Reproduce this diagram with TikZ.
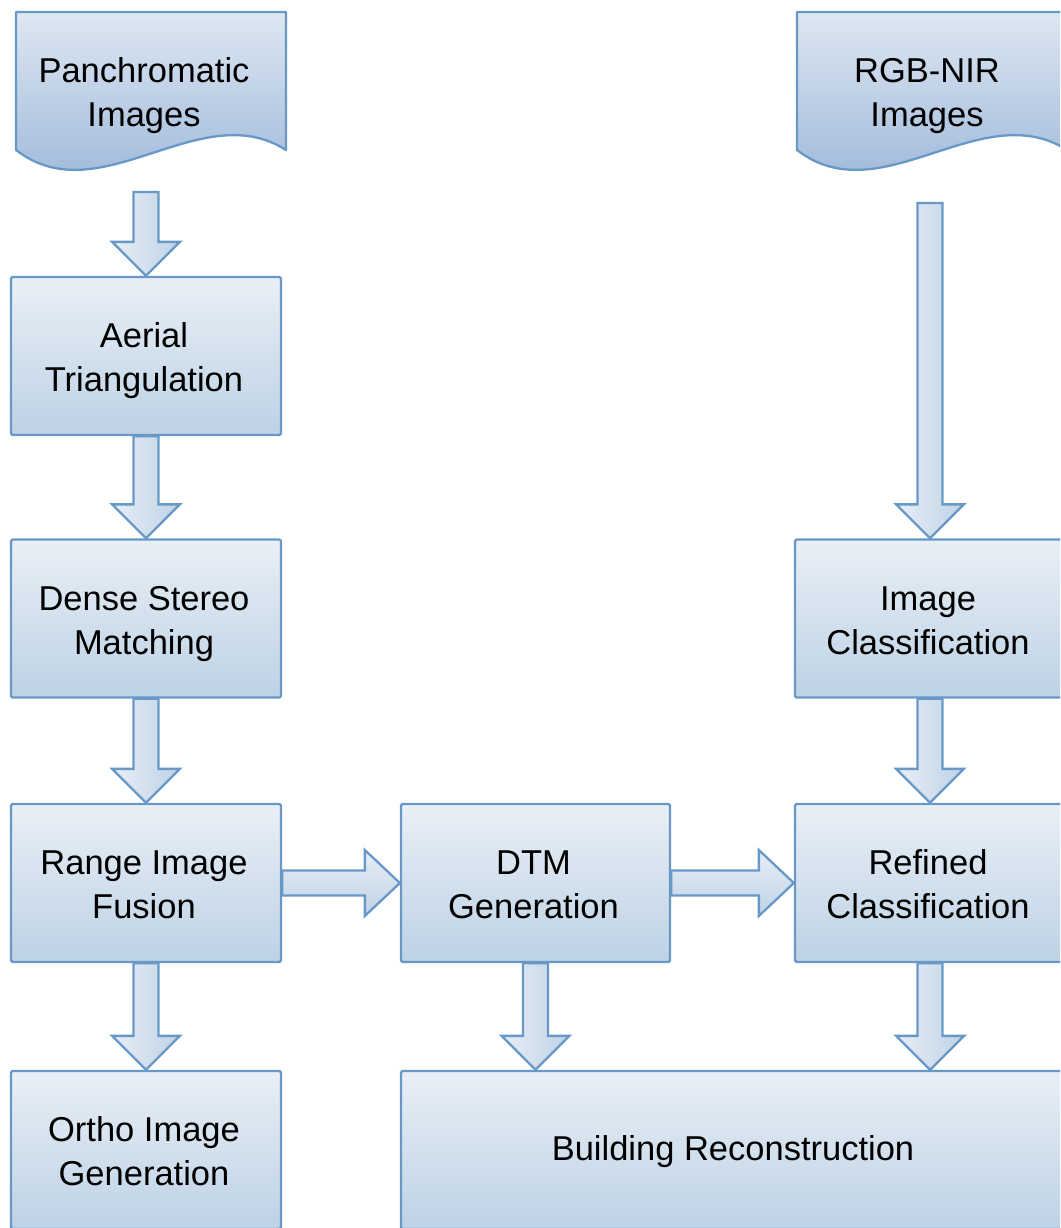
\documentclass[tikz,border=0pt]{standalone}
\usepackage{fontspec}
\setmainfont{Liberation Sans}
\usetikzlibrary{calc}
\definecolor{edgec}{RGB}{104,152,198}
\definecolor{boxtop}{RGB}{233,239,246}
\definecolor{boxbot}{RGB}{189,210,229}
\definecolor{doctop}{RGB}{222,231,242}
\definecolor{docbot}{RGB}{148,177,214}
\definecolor{arrl}{RGB}{232,238,246}
\definecolor{arrr}{RGB}{190,210,229}
\newcommand\twolines[2]{\fontsize{34.5}{44}\selectfont
  \begin{tabular}[t]{@{}c@{\hspace{4pt}}}#1\\#2\end{tabular}}
\tikzset{
  procbox/.style={draw=edgec, line width=2.3pt, rounded corners=1.5pt,
    top color=boxtop, bottom color=boxbot, minimum width=270pt,
    minimum height=158pt, inner sep=0pt,
    text height=30.8pt, text depth=47.8pt},
  onebox/.style={procbox, text height=25.3pt, text depth=5pt,
    font=\fontsize{34.5}{44}\selectfont},
  docshape/.style={draw=edgec, line width=2.3pt, line join=round,
    top color=doctop, bottom color=docbot},
  doctext/.style={inner sep=0pt, text height=30.8pt, text depth=47.8pt},
  varrowblk/.style={draw=edgec, line width=2.3pt, line join=miter,
    left color=arrl, right color=arrr},
  harrowblk/.style={draw=edgec, line width=2.3pt, line join=miter,
    top color=arrl, bottom color=arrr}
}
\newcommand\blkdown[2]{%
  \path[varrowblk] let \p1=(#1), \p2=(#2) in
  (\x1-12.5pt,\y1) -- (\x1+12.5pt,\y1) -- (\x1+12.5pt,\y2+34pt) --
  (\x1+34pt,\y2+34pt) -- (\x1,\y2) -- (\x1-34pt,\y2+34pt) --
  (\x1-12.5pt,\y2+34pt) -- cycle;}
\newcommand\blkright[2]{%
  \path[harrowblk] let \p1=(#1), \p2=(#2) in
  (\x1,\y1+12.5pt) -- (\x2-35pt,\y1+12.5pt) -- (\x2-35pt,\y1+33pt) --
  (\x2,\y1) -- (\x2-35pt,\y1-33pt) -- (\x2-35pt,\y1-12.5pt) --
  (\x1,\y1-12.5pt) -- cycle;}
\begin{document}
\begin{tikzpicture}[x=1pt,y=-1pt]
\useasboundingbox (0,0) rectangle (1060,1228);
\clip (0,0) rectangle (1060,1228);

% document shapes
\path[docshape] (16,12) -- (286,12) -- (286,150)
  .. controls (200,95) and (100,215) .. (16,150) -- cycle;
\node[doctext] (pan) at (146,91) {\twolines{Panchromatic}{Images}};
\coordinate (panout) at (146,192);

\path[docshape] (797,12) -- (1067,12) -- (1067,150)
  .. controls (981,95) and (881,215) .. (797,150) -- cycle;
\node[doctext] (rgb) at (929,91) {\twolines{RGB-NIR}{Images}};
\coordinate (rgbout) at (930,203);

% process boxes
\node[procbox] (aer) at (146,356) {\twolines{Aerial}{Triangulation}};
\node[procbox] (dsm) at (146,618.5) {\twolines{Dense Stereo}{Matching}};
\node[procbox] (rif) at (146,883) {\twolines{Range Image}{Fusion}};
\node[procbox] (ortho) at (146,1150) {\twolines{Ortho Image}{Generation}};
\node[procbox, minimum width=269pt] (dtm) at (535.5,883) {\twolines{DTM}{Generation}};
\node[procbox] (imgc) at (930,618.5) {\twolines{Image}{Classification}};
\node[procbox] (ref) at (930,883) {\twolines{Refined}{Classification}};
\node[onebox, minimum width=664pt] (build) at (733,1150) {Building Reconstruction\hspace{4pt}};

% block arrows
\blkdown{panout}{aer.north}
\blkdown{aer.south}{dsm.north}
\blkdown{dsm.south}{rif.north}
\blkdown{rif.south}{ortho.north}
\blkdown{rgbout}{imgc.north}
\blkdown{imgc.south}{ref.north}
\blkdown{dtm.south}{dtm.south |- build.north}
\blkdown{ref.south}{ref.south |- build.north}
\blkright{rif.east}{dtm.west}
\blkright{dtm.east}{ref.west}
\end{tikzpicture}
\end{document}
